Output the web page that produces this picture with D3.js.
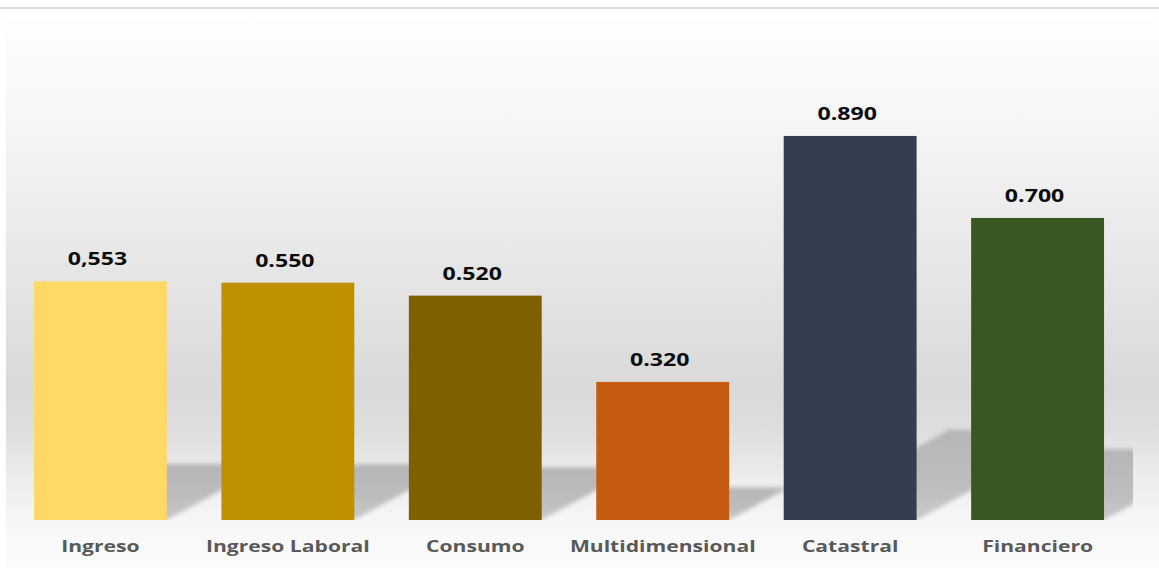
<!DOCTYPE html>
<html><head><meta charset="utf-8">
<script src="https://cdn.jsdelivr.net/npm/d3@7"></script>
<style>body{margin:0;background:#fff;} svg{display:block}</style>
</head><body><svg id="c" width="1159" height="568"></svg>
<script>
const categories = ["Ingreso", "Ingreso Laboral", "Consumo", "Multidimensional", "Catastral", "Financiero"];
const values = [0.553, 0.550, 0.520, 0.320, 0.890, 0.700];
const valueLabels = ["0,553", "0.550", "0.520", "0.320", "0.890", "0.700"];
const colors = ["#FFD966", "#BF9000", "#7F6000", "#C55A11", "#333F50", "#385723"];

const svg = d3.select("#c");
const defs = svg.append("defs");

const bgStops = [[0, "#ffffff"], [0.03, "#fdfdfd"], [0.216, "#f5f5f5"], [0.43, "#e8e8e8"], [0.68, "#d9d9d9"], [0.753, "#dedede"], [0.834, "#ececec"], [0.923, "#f7f7f7"], [1, "#fbfbfb"]];
const bg = defs.append("linearGradient").attr("id", "bg").attr("x1", 0).attr("y1", 0).attr("x2", 0).attr("y2", 1);
bg.selectAll("stop").data(bgStops).join("stop").attr("offset", d => d[0]).attr("stop-color", d => d[1]);

const shStops = [[0, "#b6b6b6"], [0.6, "#bdbdbd"], [1, "#cacaca"]];
const sg = defs.append("linearGradient").attr("id", "shg").attr("x1", 0).attr("y1", 0).attr("x2", 0).attr("y2", 1);
sg.selectAll("stop").data(shStops).join("stop").attr("offset", d => d[0]).attr("stop-color", d => d[1]);

defs.append("filter").attr("id", "blur").attr("x", "-20%").attr("y", "-20%").attr("width", "140%").attr("height", "140%")
  .append("feGaussianBlur").attr("stdDeviation", 2.2);

const x = d3.scaleBand().domain(categories).range([6.7, 1131.3]).paddingInner(0.291).paddingOuter(0.1455);
const y = d3.scaleLinear().domain([0, 1]).range([520, 88.5]);

defs.append("clipPath").attr("id", "plotclip").append("rect")
  .attr("x", x.range()[0]).attr("y", 0).attr("width", 1133 - x.range()[0]).attr("height", y(0));

svg.append("rect").attr("x", 6).attr("y", 9).attr("width", 1153).attr("height", 559).attr("fill", "url(#bg)");
svg.append("rect").attr("x", 0).attr("y", 7).attr("width", 1159).attr("height", 2).attr("fill", "#d9d9d9");

// perspective shadows
const kS = 0.235, aS = 0.43;
const sh = svg.append("g").attr("clip-path", "url(#plotclip)").append("g").attr("filter", "url(#blur)");
sh.selectAll("path").data(categories).join("path")
  .attr("d", (c, i) => {
    const x0 = x(c), x1 = x(c) + x.bandwidth(), b = y(0), h = y(0) - y(values[i]);
    const dx = aS * h, ty = b - kS * h;
    return `M${x0},${b}L${x1},${b}L${x1 + dx},${ty}L${x0 + dx},${ty}Z`;
  })
  .attr("fill", "url(#shg)");

svg.append("g").selectAll("rect").data(categories).join("rect")
  .attr("x", c => x(c)).attr("width", x.bandwidth())
  .attr("y", (c, i) => y(values[i])).attr("height", (c, i) => y(0) - y(values[i]))
  .attr("fill", (c, i) => colors[i]);

svg.append("g").selectAll("text").data(categories).join("text")
  .attr("transform", (c, i) => `translate(${x(c) + x.bandwidth() / 2 - 3},${y(values[i]) - 16}) scale(1.36,1)`)
  .attr("text-anchor", "middle")
  .attr("font-family", "'Open Sans', sans-serif").attr("font-weight", 700).attr("font-size", 17)
  .attr("fill", "#0d0d0d")
  .text((c, i) => valueLabels[i]);

svg.append("g").selectAll("text").data(categories).join("text")
  .attr("transform", c => `translate(${x(c) + x.bandwidth() / 2},552) scale(1.32,1)`)
  .attr("text-anchor", "middle")
  .attr("font-family", "'Open Sans', sans-serif").attr("font-weight", 700).attr("font-size", 16)
  .attr("fill", "#595959")
  .text(c => c);
</script></body></html>
